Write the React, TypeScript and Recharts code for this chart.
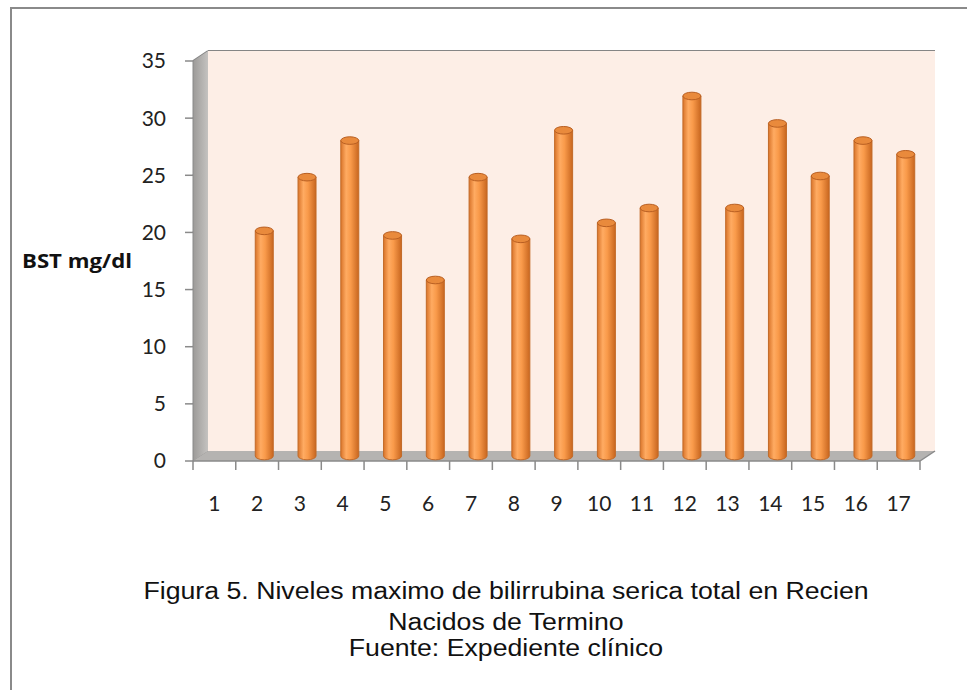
import React from "react";
import {
  BarChart,
  Bar,
  XAxis,
  YAxis,
  CartesianGrid,
  ReferenceArea,
} from "recharts";

// Recien nacidos 1..17 and their peak serum bilirubin (mg/dl)
const patients = ["1", "2", "3", "4", "5", "6", "7", "8", "9", "10", "11", "12", "13", "14", "15", "16", "17"];
const bstValues: (number | null)[] = [
  null, 19.7, 24.4, 27.6, 19.3, 15.4, 24.4, 19.0, 28.5, 20.4, 21.7, 31.5, 21.7, 29.1, 24.5, 27.6, 26.4,
];
const yTicks = [0, 5, 10, 15, 20, 25, 30, 35];

const captionLines = [
  "Figura 5. Niveles maximo de bilirrubina serica total en Recien",
  "Nacidos de Termino",
  "Fuente: Expediente clínico",
];

const data = patients.map((name, i) => ({ name, bst: bstValues[i] }));

// 3D depth offset of the back wall relative to the front plane
const DEPTH_X = 15;
const DEPTH_Y = -10;

const FONT = "Lato, 'Open Sans', sans-serif";

const Walls = (props: any) => {
  const { x, y, width, height } = props;
  const bottom = y + height;
  return (
    <g>
      <defs>
        <linearGradient id="sideWall" x1="0" y1="0" x2="1" y2="0">
          <stop offset="0%" stopColor="#9c9a98" />
          <stop offset="100%" stopColor="#c4c2c0" />
        </linearGradient>
      </defs>
      <rect x={x + DEPTH_X} y={y + DEPTH_Y} width={width} height={height} fill="#fdeee6" />
      <polygon
        points={`${x},${y} ${x + DEPTH_X},${y + DEPTH_Y} ${x + DEPTH_X},${bottom + DEPTH_Y} ${x},${bottom}`}
        fill="url(#sideWall)"
      />
      <polygon
        points={`${x},${bottom} ${x + DEPTH_X},${bottom + DEPTH_Y} ${x + width + DEPTH_X},${bottom + DEPTH_Y} ${x + width},${bottom}`}
        fill="#b5b3b1"
      />
      <line x1={x} y1={bottom} x2={x + width} y2={bottom} stroke="#8a8a8a" strokeWidth={1.5} />
      <line x1={x + width} y1={bottom} x2={x + width + DEPTH_X} y2={bottom + DEPTH_Y} stroke="#8a8a8a" strokeWidth={1.5} />
      <line x1={x} y1={y} x2={x} y2={bottom} stroke="#8a8a8a" strokeWidth={1} />
    </g>
  );
};

const GridLine = (props: any) => {
  const { x1, y1, x2, y2 } = props;
  return (
    <g>
      <line x1={x1} y1={y1} x2={x1 + DEPTH_X} y2={y1 + DEPTH_Y} stroke="#858585" strokeWidth={1.8} />
      <line x1={x1 + DEPTH_X} y1={y1 + DEPTH_Y} x2={x2 + DEPTH_X} y2={y2 + DEPTH_Y} stroke="#858585" strokeWidth={1.8} />
    </g>
  );
};

// cylinder bar standing halfway into the depth of the floor
const Cylinder = (props: any) => {
  const { x, y, width, height } = props;
  if (height == null || height <= 0) return null;
  const left = x + DEPTH_X / 2;
  const right = left + width;
  const top = y + DEPTH_Y / 2;
  const base = y + height + DEPTH_Y / 2;
  const rx = width / 2;
  const ry = 3.8;
  return (
    <g>
      <path
        d={`M${left},${top} L${left},${base} A${rx},${ry} 0 0 0 ${right},${base} L${right},${top} Z`}
        fill="url(#cylBody)"
        stroke="#c26a28"
        strokeWidth={1}
      />
      <ellipse cx={left + rx} cy={top} rx={rx} ry={ry} fill="#e98a3c" stroke="#b95f22" strokeWidth={1} />
    </g>
  );
};

const XTick = (props: any) => {
  const { x, y, payload, index, visibleTicksCount } = props;
  const band = 727 / patients.length;
  const last = index === (visibleTicksCount ?? patients.length) - 1;
  return (
    <g>
      <line x1={x - band / 2} y1={y} x2={x - band / 2} y2={y + 9} stroke="#8a8a8a" strokeWidth={1.5} />
      {last && <line x1={x + band / 2} y1={y} x2={x + band / 2} y2={y + 9} stroke="#8a8a8a" strokeWidth={1.5} />}
      <text x={x} y={y + 50} textAnchor="middle" fontFamily={FONT} fontSize={21} fill="#222">
        {payload.value}
      </text>
    </g>
  );
};

const captionTops = [580, 611, 637];

export default function App() {
  return (
    <div style={{ position: "absolute", left: 0, top: 0, width: 967, height: 690, background: "#fff", overflow: "hidden" }}>
      <div style={{ position: "absolute", left: 10, top: 7, width: 957, height: 683, borderLeft: "2px solid #8a8a8a", borderTop: "2px solid #8a8a8a" }} />
      <BarChart
        width={967}
        height={690}
        data={data}
        margin={{ top: 61, right: 47, bottom: 199, left: 0 }}
        barSize={18}
        style={{ position: "absolute", left: 0, top: 0 }}
      >
        <defs>
          <linearGradient id="cylBody" x1="0" y1="0" x2="1" y2="0">
            <stop offset="0%" stopColor="#d9742a" />
            <stop offset="30%" stopColor="#ffab62" />
            <stop offset="55%" stopColor="#f99a4a" />
            <stop offset="100%" stopColor="#c8661f" />
          </linearGradient>
        </defs>
        <ReferenceArea y1={0} y2={35} shape={<Walls />} ifOverflow="visible" />
        <CartesianGrid vertical={false} horizontal={(p: any) => <GridLine key={p.key} {...p} />} />
        <XAxis
          dataKey="name"
          height={30}
          axisLine={false}
          tickLine={false}
          tickSize={0}
          tickMargin={0}
          interval={0}
          tick={<XTick />}
        />
        <YAxis
          width={193}
          domain={[0, 35]}
          ticks={yTicks}
          axisLine={false}
          tickLine={{ stroke: "#8a8a8a", strokeWidth: 1.5 }}
          tickSize={8}
          tickMargin={19}
          tick={{ fontFamily: FONT, fontSize: 21, fill: "#222" }}
          label={{
            content: () => (
              <text
                x={22}
                y={268}
                fontFamily="'Open Sans', sans-serif"
                fontWeight="bold"
                fontSize={19}
                textLength={110}
                lengthAdjust="spacingAndGlyphs"
                fill="#111"
              >
                BST mg/dl
              </text>
            ),
          }}
        />
        <Bar dataKey="bst" shape={<Cylinder />} isAnimationActive={false} />
      </BarChart>
      {captionLines.map((line, i) => (
        <div
          key={i}
          style={{
            position: "absolute",
            left: 0,
            width: 1012,
            top: captionTops[i],
            textAlign: "center",
            fontFamily: "'Liberation Sans', Arial, sans-serif",
            fontSize: 23,
            lineHeight: "23px",
            color: "#111",
            whiteSpace: "nowrap",
            transform: "scaleX(1.16)",
            transformOrigin: "506px 0",
          }}
        >
          {line}
        </div>
      ))}
    </div>
  );
}
